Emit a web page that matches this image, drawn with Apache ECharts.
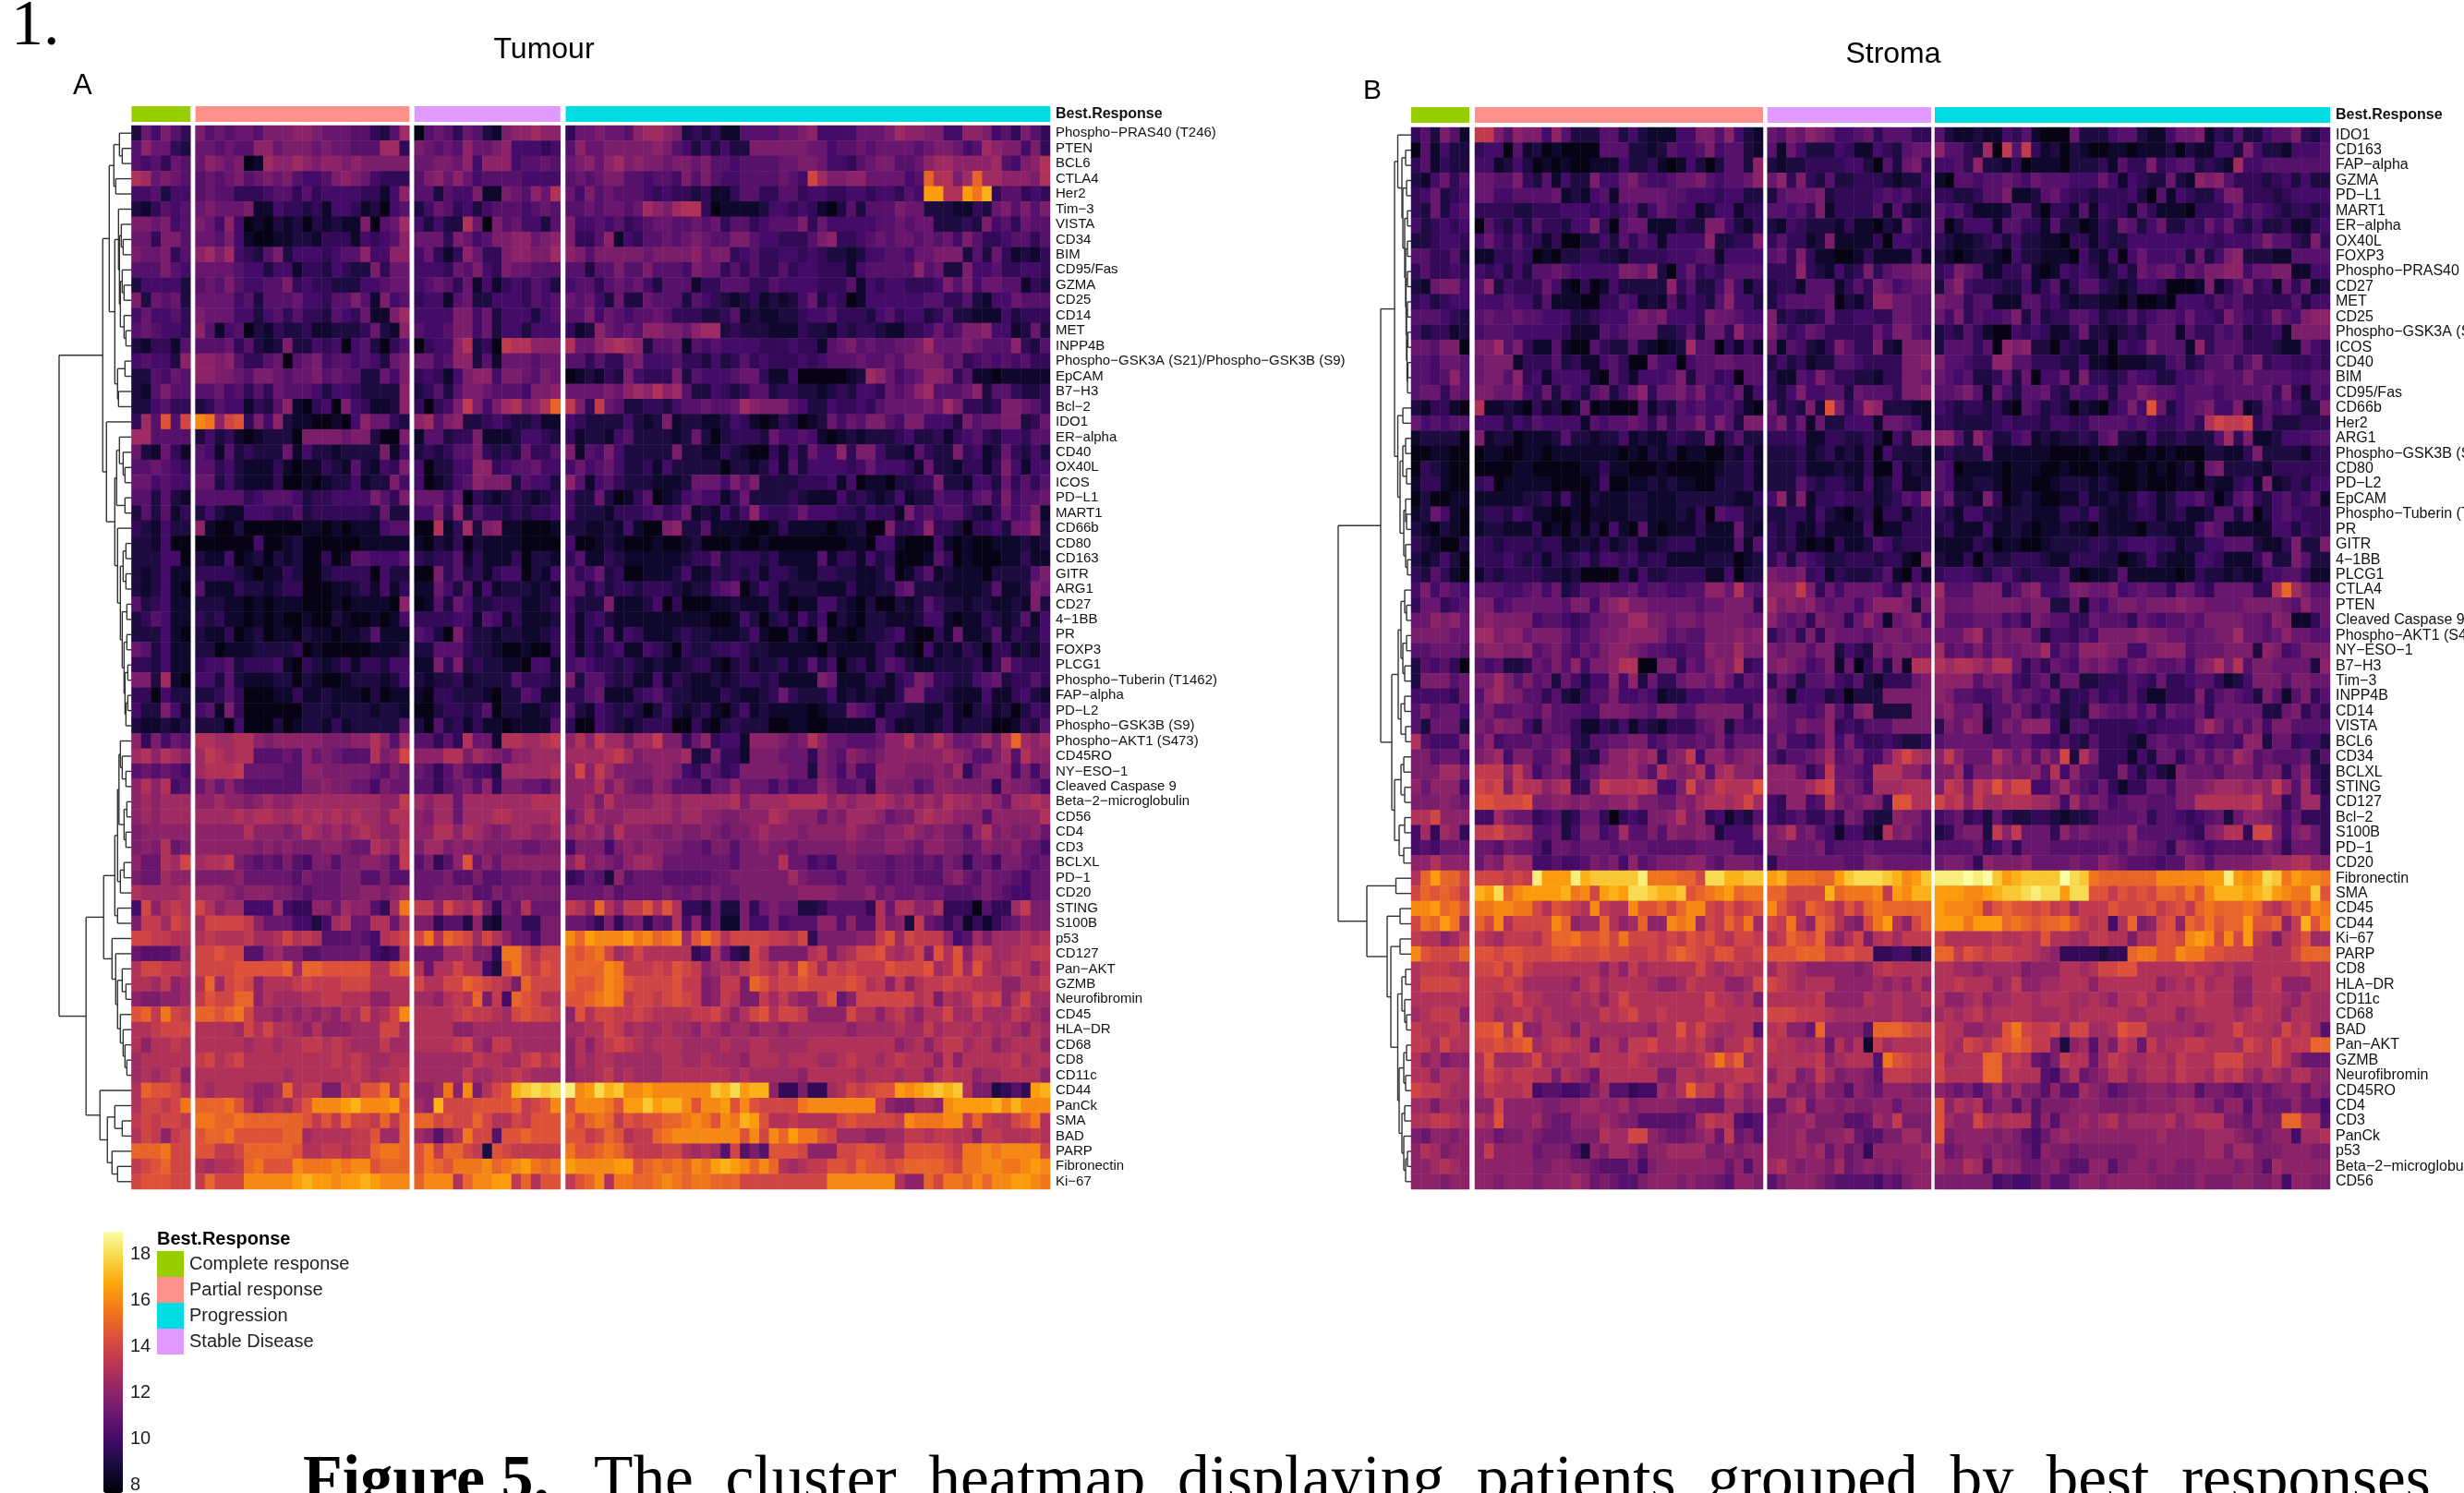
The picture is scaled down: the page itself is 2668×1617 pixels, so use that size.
<!DOCTYPE html>
<html>
<head>
<meta charset="utf-8">
<script src="https://cdn.jsdelivr.net/npm/echarts@6/dist/echarts.min.js"></script>
<style>html,body{margin:0;padding:0;background:#fff}#c{width:2668px;height:1617px}</style>
</head>
<body>
<div id="c"></div>
<script>
// Expression levels. One character per patient, in half-unit steps:
// 0=8, 1=8.5, 2=9 ... 9=12.5, a=13, b=13.5 ... m=19. Groups are split by "|".
const levelCodes = "0123456789abcdefghijklm";
const groupNames = ["Complete response","Partial response","Stable Disease","Progression"];
const groupColors = ["#96CE00","#FF918A","#DF99FF","#00DCE4"];
const legendNames = ["Complete response","Partial response","Progression","Stable Disease"];
const legendColors = ["#96CE00","#FF918A","#00DCE4","#DF99FF"];
const tumourCounts = [6,22,15,50];
const stromaCounts = [6,30,17,41];
const colorbarTicks = [8,10,12,14,16,18];

const tumourLabels = ["Phospho−PRAS40 (T246)","PTEN","BCL6","CTLA4","Her2","Tim−3","VISTA","CD34","BIM","CD95/Fas","GZMA","CD25","CD14","MET","INPP4B","Phospho−GSK3A (S21)/Phospho−GSK3B (S9)","EpCAM","B7−H3","Bcl−2","IDO1","ER−alpha","CD40","OX40L","ICOS","PD−L1","MART1","CD66b","CD80","CD163","GITR","ARG1","CD27","4−1BB","PR","FOXP3","PLCG1","Phospho−Tuberin (T1462)","FAP−alpha","PD−L2","Phospho−GSK3B (S9)","Phospho−AKT1 (S473)","CD45RO","NY−ESO−1","Cleaved Caspase 9","Beta−2−microglobulin","CD56","CD4","CD3","BCLXL","PD−1","CD20","STING","S100B","p53","CD127","Pan−AKT","GZMB","Neurofibromin","CD45","HLA−DR","CD68","CD8","CD11c","CD44","PanCk","SMA","BAD","PARP","Fibronectin","Ki−67"];
const stromaLabels = ["IDO1","CD163","FAP−alpha","GZMA","PD−L1","MART1","ER−alpha","OX40L","FOXP3","Phospho−PRAS40 (T246)","CD27","MET","CD25","Phospho−GSK3A (S21)/Phospho−GSK3B (S9)","ICOS","CD40","BIM","CD95/Fas","CD66b","Her2","ARG1","Phospho−GSK3B (S9)","CD80","PD−L2","EpCAM","Phospho−Tuberin (T1462)","PR","GITR","4−1BB","PLCG1","CTLA4","PTEN","Cleaved Caspase 9","Phospho−AKT1 (S473)","NY−ESO−1","B7−H3","Tim−3","INPP4B","CD14","VISTA","BCL6","CD34","BCLXL","STING","CD127","Bcl−2","S100B","PD−1","CD20","Fibronectin","SMA","CD45","CD44","Ki−67","PARP","CD8","HLA−DR","CD11c","CD68","BAD","Pan−AKT","GZMB","Neurofibromin","CD45RO","CD4","CD3","PanCk","p53","Beta−2−microglobulin","CD56"];

const tumourRows = [
"264753|7565665777 8876665532 59|0565365217 8898899|3667665899 8723231155 5566784444 6667988774 4887453753",
"586632|6656558867 7767665559 93|7656586678 44434|5866777778 7542424227 7777766455 6566665677 6459877473 5655",
"545365|6876701988 9878878777 77|6677684888 45565|6786897877 6776755455 5566776443 5677556899 8888954 7 8aa",
"a96765|5656756767 5 44 5 7 8 76 4 3 3|57 86 86 4 5 5 5 5 4|5 6 5 6 7 7 5 5 4 5 5 4 7 5 7 5 4 4 5 5 5 5 6 5 4 c 9 7 7 8 8 6 6 6 6 4 5 e a a 7 9 e 9 9 8 8 8 7 a",
"445244|5 6 5 5 3 3 3 4 5 5 3 5 3 4 4 4 4 3 3 1 4 8|5 5 2 5 4 4 7 1 1 7 6 5 8 6 a|6 4 7 5 6 5 5 5 4 3 4 3 3 2 3 1 1 3 5 5 3 3 5 5 3 4 4 3 3 4 4 3 4 4 3 5 4 h h a a h f i 3 5 5 3 4 3",
"213545|6766671143 3 2 3 1 4 4 3 1 2 0 4 5|2 4 6 5 3 4 2 4 5 5 5 4 5 6 5|5 5 6 5 6 6 5 6 9 8 7 9 a a 3 0 1 1 1 1 2 4 4 3 4 3 1 0 2 5 2 5 5 5 7 6 6 2 2 2 1 1 3 2 6 7 5 7 5 7",
"776745|7648401 0 2 1 2 0 2 1 2 1 1 7 0 5 6 9|4 2 4 2 2 a 6 0 7 5 6 4 4 2 5|7 4 4 5 4 5 3 4 5 6 6 5 5 6 5 6 3 5 5 3 4 5 5 5 7 3 6 4 4 4 4 4 5 5 6 5 6 6 2 2 2 3 2 7 4 5 3 6 5 5",
"663775|6 6 5 7 4 1 0 0 1 1 2 2 1 3 3 3 1 4 3 4 5 8|6 6 6 3 7 6 4 5 7 7 8 8 6 7 8|7 3 3 5 8 1 4 3 5 5 6 5 6 7 6 5 5 7 7 5 4 4 3 3 3 5 7 8 3 3 4 5 6 5 6 6 5 6 5 6 4 7 5 3 3 4 5 5 3 5",
"766735|8 9 7 9 4 3 2 5 7 2 4 4 4 3 4 5 5 8 4 4 8 8|4 6 3 1 3 8 6 3 3 7 8 8 7 7 9|8 7 5 7 7 7 7 7 6 7 7 7 7 8 6 7 7 3 4 5 3 3 4 4 3 4 3 2 2 1 2 4 4 5 5 4 6 6 7 7 7 2 5 2 6 3 1 2 1 3",
"555754|6 6 6 6 5 4 4 2 4 4 1 3 3 2 4 3 2 2 7 3 6 6|4 4 4 3 6 5 7 4 3 7 6 6 5 5 5|5 5 2 5 5 7 5 5 7 5 5 5 4 7 6 6 3 5 3 5 3 3 5 3 4 4 3 3 3 1 4 5 5 5 5 5 8 5 6 2 2 7 4 4 5 3 3 4 4 3",
"244442|5 6 5 7 5 4 4 5 5 7 3 4 3 3 2 2 2 4 4 5 6 6|4 5 6 5 3 6 1 4 1 3 4 3 5 4 2|4 5 5 3 5 6 5 6 4 2 5 5 5 1 3 3 5 5 5 3 3 5 4 4 4 4 3 3 3 5 1 4 3 4 4 3 3 3 4 7 5 7 4 6 6 5 5 1 3 2",
"726562|6 6 6 6 4 5 2 5 5 5 6 4 4 3 5 5 7 5 1 7 4 5|3 4 4 1 5 6 2 2 4 4 4 3 5 4 5|6 5 6 4 2 6 2 2 6 5 5 5 2 5 4 3 2 1 2 3 1 2 1 2 4 6 2 4 3 0 1 4 4 4 4 4 4 5 5 3 3 5 2 1 4 4 6 5 5 5",
"464453|7 6 6 6 4 4 2 4 5 3 5 3 3 2 5 4 3 6 1 1 7 9|4 4 4 4 7 7 4 6 2 4 4 4 2 4 5|5 5 7 4 6 5 4 5 5 6 5 3 3 3 2 2 3 5 1 2 1 1 2 2 3 4 4 5 3 3 3 2 4 5 3 4 4 2 3 5 2 2 1 1 1 4 2 3 3 3",
"565443|8 5 1 4 5 0 2 1 3 2 2 3 1 1 2 2 2 3 6 2 1 8|5 4 4 5 7 7 4 6 2 4 4 2 4 4 4|3 1 2 8 6 5 6 5 8 8 7 7 6 8 9 9 2 3 2 2 2 1 1 1 3 2 2 1 3 2 3 3 2 1 1 3 3 4 6 4 5 7 7 8 4 4 1 2 6 2 3 3 4 5",
"213315|5 5 5 6 3 5 2 1 2 7 2 2 4 3 4 0 4 5 2 0 3 5|0 3 4 4 8 a 2 3 0 b a a 8 8 8|a 6 6 8 9 a 9 8 2 5 5 6 1 5 4 5 4 4 4 4 3 3 3 4 3 3 1 5 6 7 5 6 5 5 6 6 7 9 6 6 6 7 6 5 5 5 8 3 2 5",
"454428|8 8 7 8 5 3 3 5 6 0 5 6 7 4 5 5 4 5 4 2 6 7|6 6 4 5 8 8 2 5 1 6 6 6 5 6 6|5 5 3 5 3 3 6 7 4 4 4 5 3 3 2 4 2 3 5 3 4 3 3 3 4 3 4 5 5 5 6 5 5 6 5 7 7 7 7 5 6 3 4 5 4 5 4 5 3 3",
"225465|8 8 7 7 6 5 7 7 6 5 6 6 7 5 6 5 5 2 2 6 4 7|3 4 3 1 4 7 8 8 4 7 7 6 5 7 6|0 1 2 1 3 2 7 4 3 3 3 7 2 5 4 4 4 5 6 6 3 1 1 4 0 0 0 0 0 1 2 9 8 6 4 5 6 8 8 7 3 5 1 1 0 1 1 1",
"215755|5 5 6 4 5 3 5 3 6 5 5 5 4 2 4 4 3 2 2 2 2 8|2 3 5 2 5 7 7 6 5 5 5 4 7 7 8|6 6 6 6 7 6 8 9 8 a 8 9 5 2 2 4 3 2 3 5 5 2 3 3 2 2 1 2 3 2 4 4 3 6 5 6 8 9 5 5 5 6 8 2 5 5 3 2 2 3",
"224533|2 3 5 4 4 1 3 2 5 8 1 0 3 4 0 7 4 3 1 1 2 8|3 0 3 4 7 b 7 4 7 9 a 7 8 a e|b 7 3 b 6 5 2 2 3 3 2 4 5 5 6 5 5 6 9 8 7 7 7 5 4 2 2 4 3 3 4 3 5 6 6 6 6 7 6 9 7 3 3 2 3 7 7 6 5 3",
"395d5c|g f 8 c d 3 7 4 8 2 1 1 0 0 1 0 4 8 6 6 3 2|8 9 5 7 8 2 2 3 4 3 2 2 3 1 1|4 3 2 2 2 2 4 2 1 2 7 1 2 2 1 1 2 4 3 1 0 1 3 2 0 1 2 6 4 6 5 7 7 5 4 7 7 4 4 4 2 7 5 6 6 7 7 2 3 6",
"995555|2 4 2 3 1 0 1 2 2 2 0 7 7 7 7 6 7 7 2 0 0 7|1 5 5 2 3 3 7 1 1 1 2 4 4 3 2|3 1 2 2 1 4 5 2 2 2 2 1 2 6 2 0 2 3 3 3 2 6 4 4 5 4 1 0 1 2 1 2 2 2 3 4 2 2 3 1 3 4 5 3 2 4 4 3 5 5",
"6 2 1 6 3 1|5 4 1 5 2 3 2 2 2 6 1 4 2 2 1 2 2 2 2 7 1 4 5|2 3 2 3 5 5 7 3 2 3 2 6 3 3 5|7 1 5 4 7 4 2 2 2 2 2 7 2 2 1 1 3 2 1 0 0 3 1 4 2 6 4 4 8 3 7 7 4 2 2 1 5 3 2 2 7 3 4 1 2 6 3 2 4 2",
"556543|5 5 3 4 2 1 1 1 3 1 0 1 1 3 2 1 5 2 1 4 3 7|4 0 2 2 4 4 8 8 3 4 5 5 6 4 4|4 6 4 5 6 4 2 2 3 1 4 2 2 2 2 2 0 2 2 1 2 4 1 5 2 4 4 4 4 3 4 6 4 4 4 3 1 6 2 2 1 3 3 1 3 7 4 1 4 4",
"664544|6 6 2 4 2 1 1 1 3 0 0 1 0 1 2 2 4 1 2 2 7 4|4 0 1 2 4 5 8 7 7 7 2 5 4 4 2|8 5 1 4 5 3 2 2 2 1 1 1 2 6 6 6 4 7 5 7 2 2 2 2 3 3 3 4 1 4 0 1 1 0 2 2 3 3 7 2 2 1 4 4 2 6 3 5 3 5",
"552521|5 5 5 5 5 3 4 5 5 5 4 2 3 3 4 4 4 4 7 5 3 7|6 6 6 4 6 0 3 2 1 2 3 2 1 2 3|4 2 2 6 2 0 1 3 5 0 1 2 4 5 4 4 1 3 6 2 2 2 2 3 2 1 1 1 4 2 3 2 1 2 4 1 2 2 5 4 4 3 5 6 3 7 4 5 5 6",
"252513|2 4 2 1 1 4 4 4 3 3 5 2 3 3 3 3 3 3 2 6 2 2|4 4 7 3 8 2 5 3 3 2 3 2 3 3 4|4 2 2 2 1 3 3 3 4 5 3 4 6 1 2 1 4 2 4 8 4 3 3 4 6 4 4 4 3 3 2 4 3 3 1 7 4 5 4 5 5 3 2 1 3 6 4 5 7 1",
"321422|8 1 0 0 2 0 0 0 0 0 0 1 1 0 1 0 1 1 1 4 5 5|0 0 a 1 3 9 2 7 8 1 1 0 0 0 1|2 2 1 1 2 1 4 1 0 0 7 8 2 2 5 1 1 1 1 0 0 1 3 1 1 1 1 0 1 1 2 0 0 7 3 3 4 8 3 3 2 0 3 3 4 2 6 6 8 2",
"221400|0 0 0 0 0 0 4 0 0 1 2 0 0 0 0 0 0 1 1 1 1 1|1 0 2 1 3 0 2 1 1 1 1 0 0 0 0|4 0 0 1 2 1 0 0 0 1 0 0 1 2 0 0 0 1 0 0 1 0 0 0 0 0 0 0 0 1 1 0 4 4 1 0 0 0 4 1 0 1 0 0 1 1 1 2 1 2",
"222440|2 1 1 4 0 1 2 0 2 1 2 0 0 3 0 1 5 5 4 4 4 5|3 2 3 3 5 1 3 1 1 1 3 0 2 2 1|3 5 1 1 3 2 1 1 1 1 1 1 2 3 3 5 2 3 3 3 2 3 1 1 1 1 5 1 3 3 1 4 2 3 0 0 0 1 5 3 0 1 0 0 0 1 1 3 1 1",
"212411|3 3 3 3 2 1 0 1 1 3 2 0 0 2 3 3 3 3 0 4 2 2|0 0 7 3 5 2 3 1 3 4 4 0 2 1 4|5 3 4 6 2 3 0 0 1 1 1 2 4 1 1 3 2 3 2 3 1 3 3 2 1 1 3 3 2 2 1 1 2 4 0 1 3 5 1 2 1 1 1 0 2 2 2 2 5 7",
"212410|5 1 1 1 3 2 2 1 2 3 3 0 0 0 1 1 2 3 1 4 1 3|1 1 6 4 2 5 1 4 1 2 2 2 1 2 1|5 5 2 4 2 3 3 2 3 3 3 2 1 2 2 4 5 6 0 2 4 3 1 2 2 2 1 1 1 3 1 1 2 2 5 6 2 2 2 1 1 1 1 2 5 1 1 2 7 6",
"523411|2 2 2 1 1 0 1 0 1 1 1 0 0 0 1 0 1 1 1 1 0 8|0 1 5 2 6 4 2 2 3 3 3 1 1 2 3|4 2 2 2 7 1 1 1 2 4 0 3 0 0 0 1 1 2 1 1 1 3 1 0 1 1 4 4 2 1 0 2 0 0 2 1 2 5 3 2 2 1 2 2 1 1 2 1 7 2",
"235411|3 2 3 1 1 0 1 0 1 0 0 1 0 0 2 1 0 0 1 0 1 4|3 3 3 3 4 4 1 5 4 1 3 1 1 1 2|4 1 3 4 2 1 1 1 1 1 1 1 1 1 1 0 0 1 4 2 0 2 3 1 4 2 4 0 2 1 0 2 2 1 1 1 2 4 4 1 0 1 1 3 2 1 2 5 1 4",
"2 2 2 4 1 0|2 1 1 3 0 1 2 0 1 1 0 2 1 1 0 1 1 2 5 1 1 1|5 4 2 0 7 3 2 2 1 2 2 1 1 2 3|4 1 3 2 5 1 4 3 1 1 1 2 3 2 2 1 1 1 2 4 1 0 0 3 1 0 5 1 1 0 1 2 2 3 4 1 0 0 3 1 6 1 1 2 5 1 3 2 2 4",
"652411|2 2 0 1 1 1 2 2 2 2 3 0 1 0 0 0 0 0 1 1 1 2|2 2 5 5 5 3 2 2 1 0 0 1 0 0 3|4 1 3 2 3 4 1 1 4 3 2 0 3 2 2 3 3 4 3 2 2 1 1 1 1 1 0 2 1 1 1 1 3 3 1 1 0 4 1 2 1 3 2 0 3 3 1 2 1 3",
"332411|3 4 4 5 2 3 3 3 4 1 0 3 2 1 2 3 1 3 3 2 4 4|1 1 7 3 7 2 3 2 2 1 1 0 4 4 1|4 5 4 3 3 2 3 2 1 2 1 1 2 3 3 1 0 2 3 1 2 2 3 1 2 5 2 4 0 2 3 1 3 5 4 2 1 1 2 2 2 2 3 1 3 7 4 3 3 3",
"772910|4 4 2 5 2 1 1 1 2 2 0 2 1 0 0 1 2 2 2 1 2 4|2 1 2 2 3 1 2 2 2 2 5 3 3 3 2|7 2 5 5 3 2 3 1 1 4 1 3 2 1 1 2 1 2 3 3 2 3 1 1 1 1 7 6 1 1 1 3 3 1 3 4 7 6 3 3 2 2 4 5 6 2 3 3 5 3",
"330422|2 2 3 5 3 0 0 0 1 1 3 1 1 2 1 1 1 0 2 0 1 1|1 0 3 3 2 2 2 1 0 2 2 5 4 1 1|3 3 5 6 1 1 1 3 4 5 3 2 2 1 1 1 3 2 1 1 2 3 6 3 2 2 2 4 1 2 1 2 1 1 3 7 7 3 3 2 1 1 1 4 1 1 3 4 2 1",
"422741|4 5 1 7 3 0 0 0 0 0 0 2 2 2 1 2 2 2 1 2 2 1|0 0 2 3 3 2 3 5 0 2 2 1 1 2 3|5 2 1 4 3 2 3 2 0 2 4 2 1 2 3 1 0 2 4 1 2 1 1 1 1 0 1 2 2 6 5 4 1 3 3 2 2 1 1 3 1 0 2 3 1 2 0 2 4 3",
"211212|2 2 2 0 4 0 0 0 2 0 1 2 2 1 3 1 2 2 2 2 2 5|2 0 5 2 3 1 3 1 1 0 1 1 1 1 5|3 0 0 4 3 2 1 2 3 3 3 0 0 3 1 0 2 3 2 2 2 0 0 1 1 0 0 1 1 1 1 1 5 3 1 1 2 1 2 3 1 2 2 2 0 0 1 3 2 5",
"837465|a a 9 9 a a 8 7 8 8 8 8 8 7 7 7 8 8 a 8 5 9|5 5 3 5 3 a 6 6 1 a a 9 9 a b|8 a 8 b 9 9 7 9 9 b 7 7 3 6 8 3 4 4 1 8 8 8 7 6 7 a 8 6 6 5 5 5 6 8 8 a 7 8 a 8 6 6 7 9 7 a e 9 8 9",
"9a8a98|9 b a 9 a a 5 5 5 6 5 8 6 7 6 5 5 5 a 7 8 c|8 8 8 a a 7 9 8 7 6 8 8 9 9 9|9 9 9 9 a b 9 7 8 8 8 8 9 2 2 7 3 3 1 7 7 7 6 6 6 3 7 6 5 8 7 6 7 8 8 8 8 8 8 9 8 7 5 5 7 9 5 a 8 8",
"565654|9 a a a b 6 6 6 6 5 5 8 8 7 7 7 7 7 6 5 7 6|6 5 3 5 7 5 4 4 2 9 9 9 9 9 a|8 c 8 b 9 7 7 7 7 8 8 7 4 3 6 5 3 4 7 7 7 7 7 6 6 2 7 6 4 7 4 4 8 8 8 7 7 7 8 7 9 3 6 8 8 8 4 7 4 7",
"8a8a45|6 8 6 8 6 5 5 5 5 5 5 7 7 8 7 7 6 6 4 7 6 6|5 5 3 5 6 7 5 8 3 7 7 6 6 5 7|8 8 8 a 7 9 7 6 6 8 7 5 5 5 3 6 6 8 6 6 6 4 6 4 5 5 8 7 5 5 6 3 8 7 7 7 5 6 8 8 7 7 7 7 3 8 7 7 6 4",
"898999|8 8 9 8 8 7 8 9 8 8 9 9 9 9 9 9 9 9 9 8 8 b|9 8 9 9 6 9 9 9 9 9 9 9 a a a|8 8 9 7 a 8 8 8 8 9 9 8 9 9 9 9 9 a 7 9 9 9 9 a a a a 8 9 8 9 9 a 9 8 9 8 9 8 a 9 9 8 9 8 6 9 9 a 9",
"898999|9 9 9 9 a 9 a a 9 9 a 9 a 9 a 9 a 9 9 8 a a|8 7 9 9 6 9 9 9 a a 9 9 9 9 a|6 8 a 8 8 8 9 9 9 9 9 8 9 9 8 8 7 7 8 8 8 a 9 8 8 8 6 8 7 9 9 9 8 6 7 7 9 a 9 9 8 8 8 5 8 8 8 8 8 a",
"788888|8 8 8 8 8 a 8 8 8 7 8 a 9 8 9 8 9 a 9 8 8 a|8 8 a a 8 a 9 8 7 8 9 9 8 8 9|8 9 8 9 7 a 8 8 8 7 7 8 7 7 8 7 6 7 7 8 9 8 8 8 7 8 8 8 8 9 8 7 7 8 8 9 8 7 8 7 7 5 8 a 7 8 7 7 8 6",
"787a67|8 8 8 8 8 8 7 8 7 8 7 7 7 8 8 7 6 6 a 9 8 b|7 9 9 7 8 7 8 7 7 7 7 6 6 7 7|4 7 7 7 4 7 8 7 8 8 7 7 6 6 5 7 7 5 7 7 8 7 7 6 7 7 7 7 7 8 7 7 7 8 8 7 6 8 8 7 7 6 6 8 7 7 8 6 6 4",
"866a9c|9 a a b 7 6 5 6 5 7 5 4 7 7 5 7 7 8 8 7 5 b|5 7 3 5 8 d 6 8 6 8 8 8 8 8 8|8 a 7 8 7 6 8 9 9 8 6 6 6 6 6 6 6 5 7 7 7 7 a 6 6 4 5 4 7 7 6 6 6 5 6 6 5 6 5 7 6 3 6 6 4 7 7 6 5 6",
"766988|7 7 7 7 8 6 6 6 6 6 5 7 6 6 6 7 7 5 5 7 5 5|6 6 6 7 5 5 7 5 5 6 6 6 7 6 6|3 4 6 5 2 8 5 6 6 6 5 5 5 5 5 6 6 7 7 7 7 7 7 9 7 6 6 6 5 7 7 6 6 5 6 6 5 5 5 7 8 6 5 7 6 6 5 4 6 6",
"a9999a|9 9 9 8 7 8 8 8 7 7 6 5 6 6 6 7 7 8 8 7 8 9|6 6 7 7 7 8 5 5 7 6 7 7 7 7 7|6 6 6 6 7 5 6 6 6 6 7 6 6 7 6 7 6 6 7 7 7 7 7 7 8 8 8 8 7 7 7 8 6 7 6 6 7 6 6 5 5 5 6 7 6 5 4 4 6 6",
"4c8aba|c a 8 9 9 4 4 4 9 4 3 3 8 8 6 9 8 8 5 3 9 f|b b 8 c a 9 b 7 3 7 6 a 6 6 6|b a 8 e a 8 b b d a d a 3 3 2 6 2 2 7 3 6 7 6 6 2 2 3 5 5 5 5 3 a 6 a a 8 8 a 3 3 3 0 5 3 3 9 b 7 7",
"7bb9cb|9 c c c c b 8 6 6 6 4 4 2 4 9 a 6 6 a a 6 a|7 7 3 5 5 2 8 2 1 6 6 3 3 7 7|6 6 5 3 7 3 6 7 3 6 5 a 4 8 3 6 1 1 7 4 4 7 4 5 5 5 8 8 5 8 5 5 a 7 8 2 b 6 5 3 5 1 3 1 3 5 6 8 7 7",
"ccbbaa|a b a a a b 9 9 a c a b a 5 5 5 6 5 4 a b c|c f a e d c 9 c a 8 6 6 4 7 7|g e h g g g h f g e f g 9 d f d a c c c c b b a c 3 7 7 7 7 8 8 b d 9 c b b b 8 4 5 9 7 9 9 9 a 9 a b",
"655569|c c d c c 5 5 8 9 7 7 5 5 6 6 6 6 7 4 3 4 a|6 6 6 9 9 a 7 7 3 f f c a c c|e d e f c 9 a c a a a a a 3 4 a 6 3 2 c a 7 7 7 7 a b 7 9 a c c d a 9 a c 7 d a d 8 b b 9 9 a a b b a",
"accbba|c c c c d d d d d e 9 e e d d d d d a a d e|a 6 a a c a a 4 2 d f c b d c|e e e e g f b b b c b d c b 8 9 a 9 b c b a c a e c 9 c b c b b b d c c c d 9 a d 9 d a 9 a b a 8 a a",
"aa9b89|a e 9 c d c 8 a a a b c b b b c c c a a a a|c a a c c e d c b a 7 e c c c|e d d e g f d c c c c d b b 7 8 b b 7 e d b c c d c c c c d c a b 8 b 8 a b b c b b a a a 8 8 a a b a",
"877889|b d c c e e 8 a 9 9 9 a a b b a a a 8 8 a a|9 9 8 a b a e 7 b 4 e d c a a|d d e f g f b c c b c d c b 7 8 b a 7 7 b 9 b 9 8 8 b d 6 8 c c c c c c a b 7 a 9 a c b c 8 a c 9 9",
"debfcb|e e d e f c 9 9 8 9 8 9 8 9 8 a 9 c 9 a c g|a a a a b c b b a 9 c d c c b|8 d a c c b b c b a a a a b b c a 8 a c d a c c b 8 8 8 8 c a a 8 a b 9 8 a a c 9 9 b 9 9 9 b a 9 8 9",
"aabccc|a a a a 9 c a c a a 9 8 a 8 8 8 9 9 9 c c 9|a a a a 8 8 9 9 9 9 9 9 9 9 9|9 9 a a c b 9 a 9 9 a 9 9 8 a 9 8 9 9 8 9 9 8 9 9 9 9 9 9 8 9 9 9 9 a 9 9 b 9 a a a 9 a 9 a 9 8 a 9",
"a8aaba|a a a a a 9 a a 9 a a b b a b a 9 9 9 b 9 9|a a a a b c 9 8 b b 9 9 9 9 9|8 a 8 a b c b a 9 a a a 9 9 9 9 a 9 9 a a 9 9 9 9 a a a a a a a a a 8 9 a 8 a b b 9 a a 8 9 a a a 8",
"9aaaaa|b c a b c a a a a a a a a a b a b a 9 9 a a|9 9 9 9 9 9 b a a 9 9 b c a b|8 a 9 a a 9 9 9 9 9 a a 9 9 a 9 9 9 8 a a a 9 a a a 9 9 a b a a 9 a b a a a 8 b 8 a a a a a b 9 a a",
"9a9ab8|a a a a a a a a a 9 a a a a a a b a 9 a a b|9 9 9 9 9 b 9 9 a a b a 9 9 9|8 9 9 a b 9 a 9 9 9 a a a a a a a 9 a 9 9 9 9 9 8 a a a a a 9 a a a 9 a a 8 a b a a 8 9 9 a a a a 8",
"aeddca|a 9 a a a 9 8 8 9 e a b b 7 7 b a d d f a e|8 8 9 f 8 g 7 a c d i j k j k|l g h k i j g g h g g g g g g j i k h i i 8 3 3 7 3 3 9 a c b c d d h g h i j i j a 7 7 2 3 5 3 h i",
"accbcf|e e e f d a 8 9 a 9 b d g g g h i g g g h d|9 8 i c c c d d d d e b c d g|d g g g f d h h j h i i g d g g h d g d c c c c f g g g g g g g b 8 7 7 9 9 8 g h h h h i g i g g",
"bcbccb|f f e e f e e e e e e d b d b e c c b e b e|e e c d c c e c a a c b d d d|e c e f e b d c d d e e f g f d g f i h d a a b a a a a c d c c c c b g f f f g g b e b a a c d f a",
"acb8bc|d e e f d d d d d e e 9 a a a a b b d 9 9 e|9 8 5 8 a f c c 5 d d e d d d|d d b c e d a b b e f g g g g g g g d g c g e h f f d c 9 9 9 8 8 9 9 b b a b b a a 8 b b a a a b a",
"eeefcc|d d b b c e e e e e d a a b b a b b e f f e|d f b e e c b 2 d c b b b b b|f d d e f e c b b b c c a 9 a 9 5 c 5 7 5 d d d c 8 8 8 c c d d c a a d d d d c b f f g f g g g g c",
"bcdecc|a 9 a a b e f d d d g f f f g f g g d e e e|d f e d f f f g e f g h f e f|h g g g g h h d e f e f e g f h i h g e g e a 9 a b b d d c e d d c d e e e e d c f f g g f f g h g",
"cdddcc|b e c c c g g g g g h i h h g h h i h g g g|e g g g a e g g h h b e a d d|b d e g a f f e e f g f e f f e e e c c c c c c c c c g g g g g g g a 8 8 e c f f e g e g g h h g f f"
];

const stromaRows = [
"352751|bb7587748 5 2 2 2 5 5 2 4 2 1 1 1 4 4 7 7 5 8 4 2 1 6 1 4|6 5 7 6 8 7 6 4 4 5 6 3 5 5 5 3 3|5 2 1 1 2 1 1 4 3 5 1 0 0 0 6 2 2 2 4 5 5 2 1 1 4 6 6 7 1 3 2 5 2 2 4 5 5 7 3 2 4 6",
"051422|3 4 4 0 5 1 2 0 1 0 0 0 0 5 5 5 2 2 1 2 5 4 4 5 7 4 5 5 2 1 5 2 5|5 1 6 4 2 2 2 4 3 1 1 4 3 2 5 6 6|8 5 5 3 2 9 0 b 5 b 3 1 2 0 2 1 0 0 1 1 0 1 1 1 2 0 2 1 1 4 4 2 7 4 2 2 1 4 4 4 5",
"351322|4 4 1 2 4 2 0 1 0 1 0 0 1 1 1 4 2 2 3 1 0 1 4 2 0 2 5 5 2 8 6 3|2 1 2 2 3 3 3 3 4 4 2 0 5 2 6 7 3|4 4 5 3 8 2 2 1 3 0 1 1 1 0 2 2 2 3 1 5 3 3 7 3 4 5 5 2 3 2 1 9 4 4 5",
"214635|6 6 5 5 7 3 2 5 1 4 2 2 7 4 4 6 7 5 4 4 5 6 6 7 5 4 5 5 6 8|6 8 3 7 3 2 5 2 2 3 3 3 2 1 2 2 4|1 0 5 5 4 5 5 6 5 4 6 5 5 5 4 4 4 6 4 1 4 3 2 2 6 2 1 8 7 8 5 3 3 3 2 3 4 2 4 2 2 3",
"346234|6 6 4 4 5 5 5 5 6 1 2 1 4 5 1 6 6 6 6 6 5 5 4 4 4 3 4 4 2 2|2 5 6 6 6 7 2 3 3 3 3 4 5 4 5 3 3|3 3 2 2 3 5 5 7 1 1 2 5 6 4 3 3 2 3 3 3 4 2 0 5 1 4 3 2 2 4 7 7 3 3 3 2 3 4 4",
"326245|3 3 3 3 2 2 3 3 3 4 4 4 3 4 3 4 5 2 4 6 5 4 4 1 2 4 4 1 3|5 5 4 5 3 7 1 3 3 3 3 5 1 5 2 1 2|5 4 5 3 1 1 1 2 5 5 2 0 3 3 1 5 1 4 3 3 1 5 3 1 1 1 0 3 3 3 4 6 4 5 4 3 2 3 3 2 3",
"423434|0 5 3 2 4 2 5 3 3 2 4 4 7 3 0 5 6 6 1 1 1 3 2 2 7 7 4 2 1 3|2 1 4 3 2 2 2 1 3 1 1 0 2 1 6 4 3 7|5 0 2 4 4 4 1 5 5 3 3 1 5 2 2 0 1 3 2 6 5 2 4 6 2 2 4 3 6 4 6 3 2 4 2 2 3 1 1 3 4",
"223443|4 6 4 3 5 3 3 1 3 0 0 2 2 4 2 5 3 5 4 1 4 4 4 4 8 2 2 3 3 7|3 5 3 3 1 2 7 1 1 1 1 3 0 4 4 3 3|3 2 1 1 2 3 4 2 4 2 2 1 1 0 3 3 1 3 2 2 4 4 4 4 4 4 4 4 4 3 4 4 4 5 7 5 5 3 2 7 3",
"553352|1 1 3 3 4 3 0 1 0 2 2 3 3 2 2 1 3 3 3 3 4 4 4 5 5 1 4 4 4 4|5 6 3 7 3 1 1 0 0 1 3 1 1 1 1 5 1|2 1 0 1 2 2 1 0 4 2 2 1 1 1 0 4 2 1 4 0 4 6 4 4 4 5 2 6 2 4 7 8 2 2 2 1 1 5 5",
"353343|4 3 4 2 4 2 5 5 6 5 4 4 4 4 4 7 7 6 8 2 0 4 6 3 4 3 5 5 5 5|3 3 3 8 3 2 1 4 2 3 7 3 5 6 6 7 7|3 4 7 6 5 1 1 3 3 5 1 0 1 4 3 4 3 1 2 4 2 6 5 6 6 4 6 5 7 7 8 8 4 6 6 7 7 1 1 4 4",
"216774|5 8 2 4 3 3 3 6 4 1 0 3 0 1 4 2 2 2 2 2 8 3 5 2 2 4 7 4 1 3|2 3 3 1 5 5 5 1 3 5 3 7 6 4 5 6 6|2 6 8 4 3 3 3 2 2 4 1 3 5 1 3 5 5 3 2 1 2 4 4 3 0 0 0 1 7 1 3 5 7 3 4 1 6 3 6 1 2 3",
"342344|4 4 4 5 4 4 2 5 1 1 1 0 0 3 3 5 4 1 2 1 5 2 4 3 2 5 8 4 4 2|2 4 5 5 5 5 6 0 2 1 3 8 8 6 6 5 5|7 6 6 3 5 5 1 1 1 5 5 3 4 2 1 2 2 1 1 0 2 0 0 1 0 4 4 4 3 5 4 5 3 3 3 3 3 5 2 4 4",
"555432|5 6 5 5 6 5 5 4 4 4 2 2 3 4 4 4 6 7 6 7 4 4 4 3 7 6 6 5 4 4|7 2 3 2 2 3 6 3 3 4 4 3 3 6 6 5 5|6 4 7 3 5 4 4 5 7 2 5 2 3 3 5 5 4 2 3 3 5 3 4 5 5 4 6 4 4 3 7 5 4 3 4 7 5 4 7 8 8",
"423312|4 5 5 5 4 4 4 4 4 3 1 1 1 5 4 5 6 6 6 2 2 3 5 2 6 6 3 8 5 5|7 5 3 4 6 5 3 3 3 3 3 6 4 7 7 5 4|2 3 2 5 3 1 0 0 4 3 4 3 1 1 3 6 2 2 1 2 3 2 5 5 5 1 5 3 3 5 4 5 2 3 3 4 1 7 7 7",
"665770|7 7 9 5 7 3 1 1 5 1 0 0 5 3 2 2 5 2 1 0 1 2 9 5 5 0 3 1 4 1|6 1 5 4 2 1 3 7 5 3 3 7 2 1 7 7 7|2 5 5 5 3 5 0 8 7 8 2 2 0 3 2 1 1 3 0 4 3 4 7 5 5 5 1 8 3 5 5 5 3 3 3 2 1 1 6 4 3",
"554665|6 7 7 7 1 3 3 3 5 2 3 1 1 4 5 3 0 0 6 4 4 0 4 5 5 6 6 5 5 5|2 4 2 3 1 2 2 5 5 4 3 3 3 3 7 7 8|7 5 5 4 3 3 8 8 5 5 3 3 3 2 2 4 1 1 0 1 1 1 2 2 4 5 2 3 5 5 6 3 5 7 3 4 4 3 3 4 3",
"554585|6 7 7 5 8 3 4 1 4 4 4 4 1 0 5 3 1 4 4 4 5 7 2 5 5 3 4 0 5 5|3 1 1 5 4 7 5 3 3 2 2 1 3 3 7 7 6|6 5 4 5 2 2 3 6 2 6 0 4 4 6 2 7 3 3 2 3 5 4 4 2 2 4 4 5 6 5 5 5 7 5 5 5 5 4 4 5 5",
"566365|7 7 6 6 7 4 3 6 2 5 4 2 5 6 2 4 6 8 3 6 6 7 5 7 4 5 4 6 1 4|3 2 4 7 4 4 5 5 2 6 5 5 5 3 7 7 8|5 5 6 7 5 1 6 4 2 5 5 6 3 2 5 4 4 5 2 5 5 7 6 5 5 4 5 5 5 4 5 5 5 5 6 3 7 3 1 5 4",
"213310|a 1 1 2 1 0 3 1 2 0 1 6 0 1 0 0 0 5 1 3 2 5 4 5 4 4 5 3 1 0|6 2 3 2 7 2 d 7 3 5 9 8 2 2 2 1 1|4 3 2 3 3 2 3 1 0 5 4 2 3 2 0 2 1 0 3 4 7 4 d 6 2 4 5 6 7 4 4 7 1 2 5 4 5 4 2 2 7",
"645455|4 4 4 2 4 3 5 4 4 4 4 1 5 4 5 5 6 5 3 6 3 5 5 7 4 7 5 2 7 7|5 7 3 6 1 6 2 2 4 4 4 1 6 6 5 4 1|3 3 2 2 2 2 3 4 3 3 3 2 4 4 3 3 5 5 5 5 4 5 4 3 3 4 5 3 a c b b c 3 5 2 2 2 3 3",
"122220|7 1 2 2 0 1 1 1 2 5 2 2 1 2 2 4 1 2 1 1 3 3 2 2 6 1 3 5 2 2|3 3 3 4 1 1 3 3 2 2 3 2 0 4 2 7 7|8 8 5 2 8 5 2 2 4 5 1 2 1 2 2 3 2 5 6 2 2 1 4 2 2 3 2 2 2 5 9 3 7 1 1 2 4 4 4 5",
"001100|0 1 1 0 0 1 1 0 1 1 1 1 1 1 1 0 1 0 2 1 2 0 1 1 0 0 2 1 3 1|2 2 2 3 1 2 3 1 2 1 3 0 4 2 2 2 1|2 3 2 2 2 6 1 1 1 1 1 1 0 0 0 0 1 0 1 1 0 0 1 0 1 0 0 0 2 2 1 1 3 7 2 2 2 2 1 3",
"032100|0 0 0 0 1 1 0 0 0 0 0 1 1 3 1 1 0 0 0 1 0 0 0 0 0 1 2 2 3 1|2 2 2 3 1 1 1 2 1 1 3 0 0 4 1 2 1|5 4 0 1 1 1 1 0 1 1 1 0 0 1 0 0 0 1 0 0 0 1 0 1 0 1 2 0 6 7 2 2 2 2 1 3 3 3 3",
"133100|3 4 0 1 1 1 1 1 0 0 0 0 1 4 0 0 1 1 2 1 2 1 1 0 0 2 2 2 3 1|2 2 2 5 3 2 3 3 2 1 4 1 2 4 1 1 2|5 4 1 1 2 2 1 0 1 1 0 0 1 2 2 2 1 2 1 0 0 1 0 0 0 1 1 0 2 1 1 3 4 1 7 1 2 3 2 4",
"020011|1 1 1 1 1 2 2 3 1 4 1 0 2 1 1 1 2 2 1 1 1 2 2 2 2 2 2 1 1 3|4 8 2 7 1 3 3 4 3 3 3 1 2 3 5 4 8|4 6 2 2 1 7 3 0 1 2 1 0 0 1 1 3 1 1 2 1 2 4 3 1 2 4 4 5 3 0 2 5 6 3 2 4 5 3 4 5 1",
"126410|2 3 3 2 4 3 1 1 0 0 1 0 1 1 1 1 2 2 1 1 1 2 1 3 0 5 4 4 2 2|2 2 3 3 1 4 2 1 0 2 3 0 3 3 1 3 3|3 2 1 4 4 2 2 1 2 2 1 1 1 3 3 2 4 2 1 1 2 3 3 1 2 3 1 1 2 5 5 2 5 0 2 4 5 4 3 3",
"210210|1 2 2 1 1 1 3 0 1 0 2 0 2 0 4 1 0 5 1 0 1 1 1 3 1 1 1 6 2 1|3 2 3 1 1 3 1 1 1 1 4 0 1 1 3 3 3|2 3 1 1 1 4 1 1 2 1 0 1 1 2 1 1 0 2 1 1 1 0 2 2 1 1 1 4 6 5 1 1 1 1 1 4 4 2 4 3",
"321002|3 3 2 3 3 3 2 3 3 1 1 2 1 3 1 2 3 1 1 2 3 3 3 1 1 1 1 5 1 5|3 2 3 1 0 1 0 3 1 1 2 5 4 2 3 3 3|1 1 1 1 3 2 0 1 1 0 0 1 2 2 2 2 3 3 2 3 4 4 4 3 3 1 2 2 4 4 5 5 5 2 1 1 3 7 2 2 7",
"212420|3 3 3 4 3 2 3 1 3 2 3 4 2 4 4 3 4 2 3 3 1 1 1 1 2 2 2 0 1 2|3 5 2 5 4 3 2 2 3 3 3 2 3 3 1 0 7|2 1 1 3 0 3 2 2 3 3 3 2 1 1 3 3 3 2 2 0 1 2 4 2 1 1 1 4 4 3 1 1 1 3 6 2 2 7 5 2",
"325310|1 3 2 3 3 3 3 2 2 1 2 0 0 0 0 3 1 4 2 2 3 3 3 3 1 1 4 0 2 2|7 6 6 7 3 4 1 3 2 2 2 3 5 1 0 4 1|3 4 4 4 3 2 4 5 3 2 3 3 3 5 1 0 1 1 2 5 1 1 1 1 1 0 1 3 2 2 1 2 1 1 4 4 5 5 3 1",
"474654|5 5 5 4 4 5 6 4 6 2 3 5 5 6 5 5 6 4 5 5 4 4 5 5 8 8 6 a 6 5|8 8 8 b 7 3 6 4 6 6 6 6 4 3 7 5 6|9 5 5 5 7 7 7 3 5 7 8 4 4 5 7 7 6 6 7 4 5 6 5 5 3 6 6 4 3 6 6 6 6 3 3 a e 9 7 5 5",
"366345|7 7 4 5 6 6 6 6 6 5 7 7 4 7 8 9 7 7 6 6 6 6 6 5 6 6 7 7 7 3|9 7 8 7 8 6 5 6 6 4 6 8 8 8 7 2 7|8 6 6 6 7 7 7 7 7 6 7 7 2 2 6 1 5 4 6 7 7 6 7 7 7 8 7 7 6 6 6 6 7 7 7 7 6 5 8 6",
"668786|7 8 7 7 7 7 4 5 5 4 3 4 6 6 7 7 9 9 7 7 6 7 7 6 7 7 7 7 6 6|8 6 5 6 3 7 6 6 3 6 8 6 1 6 7 8 4|8 5 5 5 6 6 6 4 5 3 7 6 5 5 3 3 6 5 5 5 3 6 5 4 5 5 6 5 7 7 7 7 6 6 5 8 7 1 1 3 6",
"777766|9 9 7 8 8 6 7 7 7 6 4 5 6 7 7 8 8 8 8 7 5 6 5 5 7 7 7 8 7 8|3 5 6 3 7 3 7 6 6 6 5 6 7 7 6 7 7|6 6 6 8 9 5 7 6 7 7 5 2 4 4 3 5 4 7 7 7 7 8 7 7 6 6 5 6 6 7 7 9 6 6 5 6 8 6 6 5",
"556665|7 8 8 7 7 8 5 6 7 5 4 6 5 7 8 8 7 6 5 5 4 4 5 5 8 7 7 9 7 7|7 6 7 7 5 7 7 2 4 3 2 7 6 7 7 6 6|9 5 6 5 7 5 7 6 6 7 7 9 4 6 5 8 8 8 7 7 4 4 7 8 8 8 5 6 6 6 7 7 7 2 8 7 4 5 7 7",
"254530|5 4 5 2 2 3 6 5 7 5 8 4 7 7 8 a a 0 0 7 7 3 6 5 7 8 7 a 3 4|7 8 7 6 4 5 7 1 6 0 3 6 2 7 1 a a|a 9 a a 9 8 a a 6 3 5 3 6 5 4 7 6 7 6 4 6 7 6 5 5 6 4 7 8 a 7 a 5 7 7 6 6 6 6 2 8",
"277756|7 7 9 7 5 7 5 6 2 6 4 2 4 4 8 4 8 2 6 3 3 6 7 7 6 8 6 3 6 5|3 6 5 2 5 5 6 4 3 5 2 1 3 3 3 6 7|8 8 8 8 5 7 6 7 4 3 5 6 2 6 6 2 2 3 3 3 5 4 3 6 3 3 4 5 5 3 1 2 4 7 7 7 5 7 7 6",
"444436|5 8 9 7 7 5 5 3 5 2 1 3 5 5 7 4 4 5 4 1 2 2 4 4 5 5 4 4 4 4|6 5 1 4 4 4 2 3 0 2 2 2 7 7 7 7 7|8 7 5 5 4 4 5 7 5 6 5 4 6 2 3 3 5 3 4 3 5 3 1 1 3 3 3 7 3 5 6 5 4 2 7 5 1 5 7 3 5",
"575664|6 7 5 5 6 6 5 7 5 5 5 4 4 7 7 7 6 6 5 7 7 5 5 7 7 7 7 7 3 6|7 6 5 5 4 5 8 5 3 7 8 2 2 2 2 7 7|7 8 6 6 7 3 5 5 7 5 3 5 3 2 3 2 7 6 5 5 6 4 6 3 6 5 5 6 3 6 6 6 6 6 2 2 6 7 3 5 3",
"526662|7 6 8 7 7 4 2 6 5 5 3 1 1 3 2 4 1 3 2 1 3 3 3 5 6 7 2 5 4 4|6 6 5 7 6 6 8 3 4 3 5 5 5 7 7 7 7|3 7 6 8 7 2 5 7 6 8 8 8 4 1 5 5 3 3 3 3 3 4 3 4 4 4 4 7 9 7 5 7 5 7 4 7 7 5 5 5",
"a54447|6 8 4 5 5 5 6 5 6 6 3 2 5 5 6 6 7 7 4 5 6 5 5 6 5 7 4 6 6 6|5 7 4 4 3 5 8 4 7 4 3 3 4 3 2 2 3|5 6 6 6 6 6 5 5 6 6 4 4 3 5 3 2 5 3 3 3 2 1 5 6 5 5 6 5 4 5 5 4 8 8 2 6 6 3 4 4 2",
"775664|7 8 9 4 7 7 5 5 7 8 2 3 2 6 8 8 9 8 9 3 7 8 b 4 8 8 6 7 8 8|5 3 5 5 6 7 9 5 6 7 4 4 7 a c a 9|8 b 8 6 6 6 a 8 6 8 5 8 6 c 2 a 7 3 3 3 1 4 2 6 6 3 5 7 5 7 6 9 8 5 6 5 5 5 6 2 5",
"777997|b b b 8 b 8 4 6 7 6 2 5 6 8 8 8 9 7 5 a 8 7 8 a 5 9 a 8 8 7|8 8 8 6 3 5 b 6 6 5 4 a a a 8 8 6|7 7 9 4 7 7 8 7 7 7 8 5 a 4 8 5 5 3 3 7 4 2 4 2 1 7 6 6 6 5 7 7 7 5 7 7 3 6 8 3 2",
"868884|c b c 7 b a a 8 9 a 3 3 8 b a a a b a 4 4 7 c 8 9 b a a a d|8 8 8 8 9 b c 6 7 6 4 9 9 9 a a a|7 b a 7 b a d a c c 4 4 7 9 6 5 4 6 3 1 3 3 6 6 4 7 7 7 8 9 9 9 8 9 8 b 8 5 9 4 2",
"777876|d d c c c d 7 7 8 8 7 8 7 7 8 8 9 7 7 6 6 8 7 9 a a 9 a c 9|4 3 8 8 4 5 a 7 6 7 8 7 3 d d a a|c a b 8 b 9 9 a a a 9 9 8 4 9 6 7 6 4 5 6 6 5 5 5 7 7 a a a a a a b 8 8 3 5 9 9 3",
"aac888|4 4 9 7 6 6 3 4 5 2 3 6 6 3 0 3 4 3 7 7 8 a 7 8 3 4 1 3 2 5|4 3 4 5 3 3 5 3 7 6 3 2 2 8 7 7 5|4 5 6 3 4 2 6 3 2 2 3 3 2 1 2 2 3 5 5 5 5 6 3 5 5 4 3 4 5 6 2 6 8 8 7 6 4 6 3 3 3",
"493983|b b c a a 9 5 5 6 2 4 7 7 4 5 9 5 5 7 5 8 7 7 8 7 2 4 4 4 7|7 8 a 6 7 5 4 1 4 4 2 1 a 7 8 6 5|2 3 6 7 7 2 b 8 b 6 6 6 3 8 6 7 6 6 6 6 8 5 5 5 5 5 4 3 7 8 a a 3 c c 7 4 7 8 6 3",
"454666|6 6 5 7 6 6 5 3 6 6 5 6 6 6 5 6 6 6 5 5 5 5 5 6 6 6 6 4 4 4|7 7 6 6 6 7 4 5 5 5 6 5 5 5 5 5 4|5 5 5 5 6 3 4 6 3 6 6 6 5 5 5 5 5 5 6 5 7 6 6 5 3 7 6 5 4 5 5 5 5 5 7 6 3 6 6 6 3",
"88a888|6 8 7 a 9 9 4 4 5 4 4 5 7 6 7 4 8 5 6 7 7 7 8 8 6 5 7 7 7 6|3 6 6 6 6 6 6 6 5 5 7 7 6 6 6 6 6|6 7 7 6 3 8 7 7 7 8 6 6 6 6 7 6 6 8 7 6 5 5 5 4 5 5 8 7 5 7 7 7 7 8 8 9 9 a a 8 8",
"aeheec|c c c b c b l h h h l i j j j j j l f f f e e c k k i i j j|h i f f f e e h j k k k j i g h j|l l l m l m j h i j j j j m k j f e e e e e e g g g g g h h l h g h k j f h g g f",
"cededb|i h k e g h h h h i f g c h i h k k j i i j d e f g h e f f|e e c c c c i e f f f g b h g i i|h h h g g h i j j k l k k h k k d d b d c d c e e d f d g i i i h i j h g f f j d",
"g g h e f d|f f g g f f c a d c b a g b a a g d d e c e g g c b d b c d|g d b a e d c a d b e f e e e e e|h g g g f b d e d d c d b c 9 b b b d c c c d b c d b e f e e e f e b a c e d g f",
"cfe h f 9|e c g a c c c c g e 8 9 9 e a 8 9 e 8 8 g f g 9 c b e c f 9|c b f a 8 e d a 8 7 c f h a 8 c e|h h h f h h h e f e d e e f d b a b 4 a e 7 8 c d 8 e d f d e e h d d e 8 b i d g",
"b a a 8 9 b|b a 9 b b b a c e e f d d e c f c c c b c b d c d b a c c b|a b e d c e a 8 a c 7 a b 9 b b b|c a a a a a b a a b a d a a 9 9 b b a a 7 a a d d c g h g c g c h b a 7 a b d 9",
"g d c c c e|d d c d d c c c d d c c c d c c b b c b d e d c b d d b b c|d d d e e e c c d c c 3 3 4 4 2 3|e e b d c b c c b b a 9 8 3 3 3 3 2 3 3 e f f d d g f f d d c c c a a a a c e e e",
"a b b b a a|c c d b d b a a a a a a a 8 a 8 b 9 a a a a a c a 9 a b a a|9 b a 9 8 8 8 8 8 7 8 a b a a a a|a a 9 9 8 9 9 9 9 7 8 8 8 a a 9 a c c d d a a a a a b a a 9 a 9 9 a a a a a b a a",
"a c c c c b|b b b c b 9 9 9 9 9 8 a b 9 a a a a 9 8 8 9 b a a a 8 8 9 c|c b a 9 a a a 8 8 8 8 9 8 9 8 a 8|a a b a a a 8 9 b 8 8 9 9 a a a 8 a a a a a a 8 9 a 9 b 9 a a 8 8 a a b 8 8 8 a",
"a a a a a a|b b a a c a a 9 9 9 a 9 a 8 a c a a a a a a a a c a a 9 a 7|a a a a a b 8 8 8 8 a 9 9 a 9 9 a|a 8 8 9 a 8 9 9 a a 9 a a a 9 9 a 9 8 a a b 9 a a a a b a a a 8 8 a a a 9 8 a 9 9",
"9 a b b b 8|b b 9 a a b 9 a 9 9 9 9 9 b a b c a a b a a a a b b a a a a|c c c b b b a 9 9 9 9 9 9 a 9 9 8|9 a 9 a b 9 a a a a 9 9 9 a 9 a a a a a 9 9 a a a 8 9 a a a a 9 a b a a 8 a a 9 9",
"b a a a b a|d d e a e 8 8 a a 9 7 a 9 9 9 9 9 9 8 a a d a c a 9 9 a a 5|a b 8 8 6 e 8 8 8 8 5 e e e d c c|b a a 8 8 9 9 d f c b b c 9 c c 9 9 a d c c 9 9 9 9 9 8 9 a a c a a a 9 c a b 9 5",
"b b 9 c a a|c c d c d e 9 a b b a a 6 a a 8 b b c a a b a b 9 8 a a c a|b a a 9 9 a 6 a 8 a 1 b 9 a a a a|b a 9 c b a c d e d b b 7 2 8 9 5 9 7 b a 6 b 9 a a b b a a a 9 c b a c a b b e",
"a 8 9 7 8 8|a d 9 9 9 a c 9 a 9 9 a b a a a b a 9 9 9 9 9 a c f c e 9 a|a a a a a b 8 9 a a a 5 f d c b b|c 9 a a a e e a b a 6 5 7 b a a 6 9 b a 9 9 a a 9 b a a a c c c a a a c a 8 6 6",
"a a 8 a a 9|a c b a b b a a 7 a 9 8 6 a a a a a a 7 7 a a 9 a a a b b a|8 a a 7 8 b 9 7 8 8 7 5 b b b a a|c a a a a e e a a a a 5 4 8 a 6 7 8 a a 8 9 a a 9 b a a 9 b a b 9 8 a 9 8 a a 8",
"c b b a 9 9|9 b a a a b 4 5 5 4 4 5 7 9 5 5 3 4 4 9 8 a e b b 8 b a 8 9|a a 7 8 7 9 7 7 5 8 7 6 8 8 8 7 7|8 7 6 7 5 7 9 7 9 7 7 5 8 5 5 9 8 7 5 6 7 7 8 8 7 8 8 5 7 7 6 5 6 7 6 7 8 8 6 8 7",
"997998|8 8 c 8 8 8 8 7 7 8 8 9 9 8 8 9 7 8 8 8 8 7 7 6 6 6 9 9 7 8|6 6 9 a 6 8 8 7 8 7 7 8 8 6 8 8 8|d 8 a 9 a 6 8 8 5 8 5 7 7 7 8 8 8 7 7 7 8 7 8 8 8 9 9 8 8 6 8 8 5 8 6 6 6 8 6 6 4",
"a a b b a 9|a 9 d 8 8 8 9 7 6 6 8 8 8 9 8 7 7 5 5 5 5 5 6 9 b a a 5 4 5|7 8 8 8 9 7 7 7 5 5 6 9 8 b 7 7 7|d 9 8 8 c a 9 a a a 5 8 5 8 8 9 8 9 a 8 9 9 9 9 a 8 9 a a a 7 7 6 8 7 7 e e a a 5",
"7 6 8 8 7 8|8 8 6 7 7 8 7 6 6 6 7 7 7 a 9 9 c c 8 7 6 6 7 8 9 6 b 6 7 5|8 8 8 9 7 7 8 8 9 6 5 5 7 7 9 9 7|d 7 8 8 8 8 7 8 7 5 4 6 8 9 8 8 8 8 8 8 8 8 8 9 8 8 8 8 9 9 9 8 7 6 7 8 8 4 9 9 a",
"8 a 9 7 8 8|8 b 8 8 8 8 6 7 7 7 5 2 8 7 9 9 8 6 8 8 9 9 9 9 7 7 8 7 8 8|8 8 8 9 8 9 6 8 6 7 3 8 8 8 8 8 9|9 6 7 8 8 7 8 7 7 6 4 8 7 7 6 7 7 7 7 7 7 8 8 8 8 8 8 8 9 9 7 9 9 7 7 7 8 8 8 7",
"8 8 9 a 9 8|8 8 8 8 8 8 7 7 8 8 7 7 6 5 5 5 7 4 7 8 8 8 8 8 8 8 6 8 5 8|9 a 8 7 8 8 7 9 6 7 8 7 8 7 8 8 8|9 8 8 a 9 5 9 8 8 6 6 7 8 6 5 5 8 8 5 7 8 8 7 8 8 7 7 8 8 8 8 7 8 7 5 9 8 8 8 8 8",
"8 8 8 7 8 8|8 8 7 8 8 8 7 8 8 8 9 8 6 7 6 5 5 7 8 8 8 7 8 7 7 6 5 8 8 7|5 7 8 8 8 7 6 5 5 5 5 4 6 5 7 8 8|7 7 7 7 7 7 4 5 4 4 5 7 5 5 7 8 8 7 8 8 8 8 8 7 7 7 7 8 7 7 7 8 8 7 7 8 4 8 8 7"
];

// Dendrograms: [merge height, left branch, right branch]; a plain number is a row.
const tumourTree = [78,
 [31,
  [24,[19,[13,0,[10,1,2]],[17,3,4]],[18,[14,5,[13,[11,6,[9,7,8]],[12,[10,9,[8,10,11]],[8,12,[6,13,14]]]]],[15,[7,15,16],[14,17,18]]]],
  [27,19,[18,[16,[13,20,[9,21,[7,22,23]]],[7,24,25]],[15,26,[12,[9,[6,27,28],[6,29,30]],[10,[5,31,32],[8,[5,33,34],[7,[4,35,36],[6,[4,37,38],39]]]]]]]]],
 [49,
  [30,[18,[15,[13.5,[12,40,[10,41,[6,42,43]]],[8,[5,44,45],[6,46,47]]],[12,[8,48,49],50]],[15,51,52]],[21,53,[17,54,[15,[10,55,[6,56,57]],[12,58,[9,59,[7,60,[5,61,62]]]]]]]],
  [34,63,[26,[18,64,[10,65,66]],[21,67,[15,68,69]]]]]];
const stromaTree = [79,
 [33,
  [18,[14.5,0,[10,[6,1,2],[9,[5,3,4],[7,[4,5,6],[6,[4,7,8],[5.5,[4,9,10],[5,[4,11,12],[4.5,[3.5,13,14],[4,[3.5,15,16],17]]]]]]]]],[14.5,[9,18,19],[12,[9,[6,20,21],[5,22,23]],[8,[6,24,[5,25,26]],[6,27,[4,28,29]]]]]],
  [21,[14,[11,[7,30,[5,31,32]],[9,[5,33,34],[7,35,36]]],[11,[7,37,38],[6,39,40]]],[18,[11,[8,41,42],[7,43,44]],[13,[7,45,46],[8,47,48]]]]],
 [48,
  [16.5,49,50],
  [26,[12,51,52],[22,[12,53,54],[14.5,[10,[6,55,56],[7,57,[5,58,59]]],[13,[8,[5,60,61],[6,62,63]],[10,[7,64,65],[8,66,[6,[4,67,68],69]]]]]]]]];

function decodeRows(rows, counts){
  return rows.map(function(row){
    return row.split("|").map(function(part,g){
      var s = part.replace(/\s+/g,"");
      while(s.length < counts[g]) s += s.charAt(s.length-1);
      return s.slice(0,counts[g]).split("").map(function(c){return 8 + levelCodes.indexOf(c)*0.5;});
    });
  });
}
function treeSegments(node, out){
  if(typeof node === "number") return {h:0,y:node+0.5};
  var a = treeSegments(node[1],out), b = treeSegments(node[2],out), h = node[0];
  out.push([a.h,a.y,h,a.y],[b.h,b.y,h,b.y],[h,a.y,h,b.y]);
  return {h:h,y:(a.y+b.y)/2};
}

var option = {animation:false,backgroundColor:"#fff",grid:[],xAxis:[],yAxis:[],series:[],
  visualMap:{type:"continuous",min:7.65,max:19,left:112,top:1334,padding:0,itemWidth:21,itemHeight:283,calculable:false,showLabel:false,seriesIndex:[],
    inRange:{color:["#000004","#160b39","#420a68","#6a176e","#932667","#bc3754","#dd513a","#f37819","#fca50a","#f6d746","#fcffa4"]}},
  graphic:[]};

function addGrid(l,t,w,h){option.grid.push({left:l,top:t,width:w,height:h,containLabel:false,outerBoundsMode:"none"});return option.grid.length-1;}

function addPanel(cfg){
  var decoded = decodeRows(cfg.rows,cfg.counts);
  cfg.boxes.forEach(function(b,g){
    var n = cfg.counts[g], cols=[]; for(var i=0;i<n;i++) cols.push(i);
    var ga = addGrid(b[0],cfg.stripTop,b[1]-b[0],cfg.stripH);
    var last = g===cfg.boxes.length-1;
    option.xAxis.push({gridIndex:ga,type:"value",min:0,max:1,show:false});
    option.yAxis.push({gridIndex:ga,type:"category",data:["Best.Response"],position:"right",axisLine:{show:false},axisTick:{show:false},
      axisLabel:{show:last,fontFamily:"Liberation Sans",fontWeight:"bold",fontSize:16,color:"#111",margin:6}});
    option.series.push({type:"bar",xAxisIndex:option.xAxis.length-1,yAxisIndex:option.yAxis.length-1,data:[1],barWidth:"100%",itemStyle:{color:groupColors[g]},silent:true});
    var gh = addGrid(b[0],cfg.top,b[1]-b[0],cfg.bottom-cfg.top);
    option.xAxis.push({gridIndex:gh,type:"category",data:cols,show:false});
    option.yAxis.push({gridIndex:gh,type:"category",data:cfg.labels,inverse:true,position:"right",axisLine:{show:false},axisTick:{show:false},splitLine:{show:false},
      axisLabel:{show:last,interval:0,fontFamily:cfg.font,fontSize:cfg.fontSize,color:"#111",margin:6}});
    var data=[];
    decoded.forEach(function(r,ri){r[g].forEach(function(v,ci){data.push([ci,ri,v]);});});
    option.series.push({type:"heatmap",xAxisIndex:option.xAxis.length-1,yAxisIndex:option.yAxis.length-1,data:data,progressive:0,silent:true,emphasis:{disabled:true}});
    option.visualMap.seriesIndex.push(option.series.length-1);
  });
  var gd = addGrid(cfg.treeLeft,cfg.top,cfg.boxes[0][0]-cfg.treeLeft,cfg.bottom-cfg.top);
  option.xAxis.push({gridIndex:gd,type:"value",min:0,max:cfg.tree[0],inverse:true,show:false});
  option.yAxis.push({gridIndex:gd,type:"value",min:0,max:cfg.rows.length,inverse:true,show:false});
  var segs=[]; treeSegments(cfg.tree,segs);
  option.series.push({type:"custom",xAxisIndex:option.xAxis.length-1,yAxisIndex:option.yAxis.length-1,data:segs,silent:true,clip:false,
    encode:{x:[0,2],y:[1,3]},
    renderItem:function(p,api){
      var a=api.coord([api.value(0),api.value(1)]),b=api.coord([api.value(2),api.value(3)]);
      return {type:"line",shape:{x1:a[0],y1:a[1],x2:b[0],y2:b[1]},style:{stroke:"#333",lineWidth:1.4}};
    }});
}

addPanel({rows:tumourRows,counts:tumourCounts,labels:tumourLabels,tree:tumourTree,treeLeft:64,top:136,bottom:1288,stripTop:115,stripH:17,
  boxes:[[142.4,206.3],[211.6,443.3],[448.7,606.7],[612.5,1137]],font:"Liberation Sans",fontSize:15});
addPanel({rows:stromaRows,counts:stromaCounts,labels:stromaLabels,tree:stromaTree,treeLeft:1449,top:138,bottom:1288,stripTop:116,stripH:17,
  boxes:[[1528,1591],[1597,1909],[1913.7,2091],[2095,2523]],font:"Liberation Sans",fontSize:16});

var gc = addGrid(112,1334,21,283);
option.xAxis.push({gridIndex:gc,type:"value",show:false});
option.yAxis.push({gridIndex:gc,type:"value",min:7.65,max:19,position:"right",axisLine:{show:false},axisTick:{show:false},splitLine:{show:false},
  axisLabel:{fontFamily:"Liberation Sans",fontSize:20,color:"#222",margin:8,customValues:colorbarTicks}});
option.series.push({type:"scatter",xAxisIndex:option.xAxis.length-1,yAxisIndex:option.yAxis.length-1,data:[],silent:true});

var gl = addGrid(170,1355,29,112);
option.xAxis.push({gridIndex:gl,type:"value",min:0,max:1,show:false});
option.yAxis.push({gridIndex:gl,type:"category",data:legendNames,inverse:true,position:"right",axisLine:{show:false},axisTick:{show:false},
  axisLabel:{fontFamily:"Liberation Sans",fontSize:20,color:"#222",margin:6}});
option.series.push({type:"bar",xAxisIndex:option.xAxis.length-1,yAxisIndex:option.yAxis.length-1,barWidth:"100%",silent:true,
  data:legendColors.map(function(c){return {value:1,itemStyle:{color:c}};})});

function txt(t,x,y,font,size,weight,align){
  option.graphic.push({type:"text",x:x,y:y,silent:true,z:50,style:{text:t,fontFamily:font,fontSize:size,fontWeight:weight||"normal",fill:"#000",textAlign:align||"left",textVerticalAlign:"middle"}});
}
txt("1.",12,30,"Liberation Serif",70);
txt("Tumour",589,54,"Liberation Sans",32,"normal","center");
txt("Stroma",2050,59,"Liberation Sans",32,"normal","center");
txt("A",79,93,"Liberation Sans",31);
txt("B",1476,99,"Liberation Sans",30);
txt("Best.Response",170,1342,"Liberation Sans",20,"bold");
txt("Figure 5.",328,1606,"Liberation Serif",70,"bold");
txt("The  cluster  heatmap  displaying  patients  grouped  by  best  responses",643,1606,"Liberation Serif",69.4);

var chart = echarts.init(document.getElementById("c"),null,{renderer:"canvas"});
chart.setOption(option);
</script>
</body>
</html>
